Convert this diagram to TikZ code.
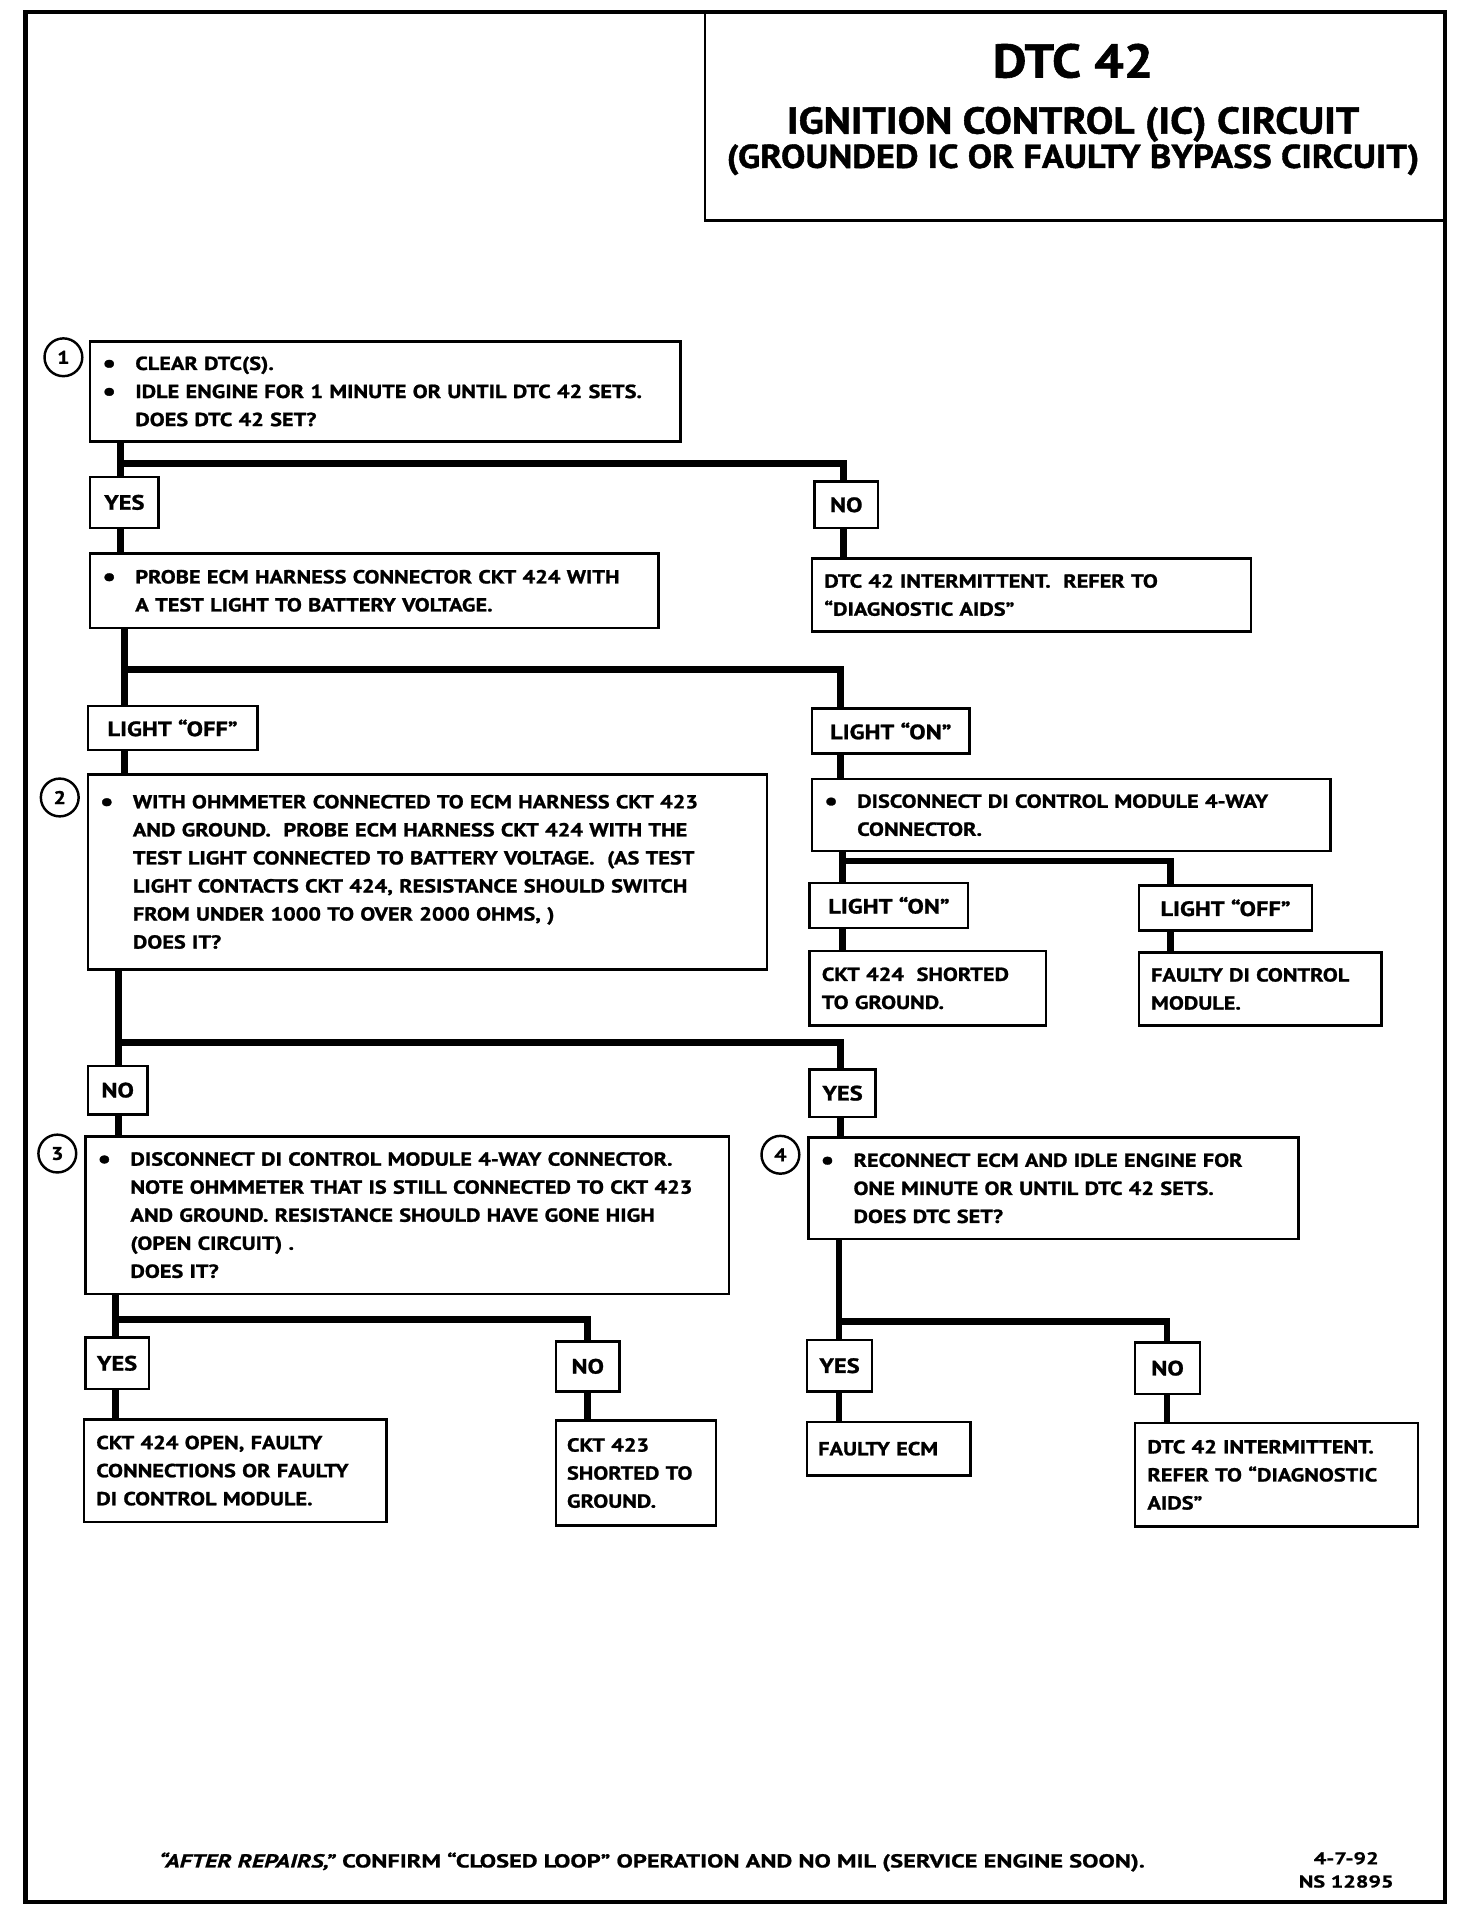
\documentclass[tikz,border=0pt]{standalone}
\usepackage{fontspec}
\setmainfont{PT Sans}
\newfontfamily\boxfont{PT Sans}[FakeStretch=1.18, BoldFeatures={FakeBold=1.2}]
\newfontfamily\headfont{PT Sans}[FakeStretch=1.1, BoldFeatures={FakeBold=1.2}]
\newfontfamily\footfont{PT Sans}[FakeStretch=1.3, BoldFeatures={FakeBold=1}, BoldItalicFeatures={FakeBold=1}]
\tikzset{
  stepbox/.style={draw, line width=2pt, anchor=north west, align=left,
    inner xsep=10pt, inner ysep=0pt, font=\boxfont\bfseries\fontsize{15.5}{23}\selectfont},
  tag/.style={draw, line width=2pt, anchor=north west, inner sep=0pt,
    font=\boxfont\bfseries\fontsize{17}{23}\selectfont},
  flow/.style={line width=5.5pt},
  num/.style={draw, circle, line width=2pt, minimum size=31pt, inner sep=0pt,
    font=\boxfont\bfseries\fontsize{15}{15}\selectfont}
}
\newcommand{\bul}{\makebox[27pt][l]{\raisebox{-1.5pt}{\fontsize{21}{21}\selectfont\textbullet}}}
\newcommand{\ind}{\hspace*{27pt}}
\begin{document}
\begin{tikzpicture}[x=1pt, y=-1pt]
\useasboundingbox (0,0) rectangle (1208,1568);
% frame and heading
\draw[line width=3.5pt] (21,10) rectangle (1185,1560);
\draw[line width=2pt] (578,10) rectangle (1185,181);
\node[font=\headfont\bfseries\fontsize{38.8}{40}\selectfont] (ttl) at (880,50) {DTC 42};
\node[font=\headfont\bfseries\fontsize{30.7}{30}\selectfont] (sub1) at (880,102) {IGNITION CONTROL (IC) CIRCUIT};
\node[font=\headfont\bfseries\fontsize{27.2}{27}\selectfont] (sub2) at (880,131) {(GROUNDED IC OR FAULTY BYPASS CIRCUIT)};

% step 1
\node[num] (c1) at (52,293) {1};
\node[stepbox, text width=464pt, minimum height=82pt] (b1) at (73,279)
  {\bul CLEAR DTC(S).\\ \bul IDLE ENGINE FOR 1 MINUTE OR UNTIL DTC 42 SETS.\\ \ind DOES DTC 42 SET?};
\node[tag, minimum width=56pt, minimum height=42pt] (y1) at (73,390) {YES};
\node[tag, minimum width=52pt, minimum height=38pt] (n1) at (667,394) {NO};
\node[stepbox, text width=446pt, minimum height=61pt] (pr) at (73,453)
  {\bul PROBE ECM HARNESS CONNECTOR CKT 424 WITH\\ \ind A TEST LIGHT TO BATTERY VOLTAGE.};
\node[stepbox, text width=340pt, minimum height=60pt] (ia) at (665,457)
  {DTC 42 INTERMITTENT.\ \ REFER TO\\ “DIAGNOSTIC AIDS”};
\coordinate (j1) at (99,380);
\coordinate (j1r) at (692,380);
\draw[flow] (b1.south -| j1) -- (y1.north -| j1);
\draw[flow] (j1) -- (j1r) -- (n1.north -| j1r);
\draw[flow] (y1.south -| j1) -- (pr.north -| j1);
\draw[flow] (n1.south -| j1r) -- (ia.north -| j1r);

% probe result
\node[tag, minimum width=139pt, minimum height=36pt] (loff) at (71,578) {LIGHT “OFF”};
\node[tag, minimum width=129pt, minimum height=37pt] (lon) at (665,580) {LIGHT “ON”};
\coordinate (j2) at (102,549);
\coordinate (j2r) at (689,549);
\draw[flow] (pr.south -| j2) -- (loff.north -| j2);
\draw[flow] (j2) -- (j2r) -- (lon.north -| j2r);

% step 2
\node[num] (c2) at (49,654) {2};
\node[stepbox, text width=537pt, minimum height=160pt] (b2) at (71,634)
  {\bul WITH OHMMETER CONNECTED TO ECM HARNESS CKT 423\\
   \ind AND GROUND.\ \ PROBE ECM HARNESS CKT 424 WITH THE\\
   \ind TEST LIGHT CONNECTED TO BATTERY VOLTAGE.\ \ (AS TEST\\
   \ind LIGHT CONTACTS CKT 424, RESISTANCE SHOULD SWITCH\\
   \ind FROM UNDER 1000 TO OVER 2000 OHMS, )\\
   \ind DOES IT?};
\draw[flow] (loff.south -| j2) -- (b2.north -| j2);

% light on side
\node[stepbox, text width=405pt, minimum height=59pt] (dc) at (665,638)
  {\bul DISCONNECT DI CONTROL MODULE 4-WAY\\ \ind CONNECTOR.};
\draw[flow] (lon.south -| j2r) -- (dc.north -| j2r);
\node[tag, minimum width=130pt, minimum height=37pt] (lon2) at (663,723) {LIGHT “ON”};
\node[tag, minimum width=142pt, minimum height=37pt] (loff2) at (933,725) {LIGHT “OFF”};
\node[stepbox, text width=174pt, minimum height=61pt] (sh) at (663,779)
  {CKT 424\ \ SHORTED\\ TO GROUND.};
\node[stepbox, text width=179pt, minimum height=60pt] (fm) at (933,780)
  {FAULTY DI CONTROL\\ MODULE.};
\coordinate (j6) at (691,706);
\coordinate (j6r) at (960,706);
\draw[flow] (dc.south -| j6) -- (lon2.north -| j6);
\draw[flow] (j6) -- (j6r) -- (loff2.north -| j6r);
\draw[flow] (lon2.south -| j6) -- (sh.north -| j6);
\draw[flow] (loff2.south -| j6r) -- (fm.north -| j6r);

% step 2 result
\node[tag, minimum width=49pt, minimum height=40pt] (n3) at (71,873) {NO};
\node[tag, minimum width=54pt, minimum height=39pt] (y3) at (663,876) {YES};
\coordinate (j3) at (97,855);
\coordinate (j3r) at (689,855);
\draw[flow] (b2.south -| j3) -- (n3.north -| j3);
\draw[flow] (j3) -- (j3r) -- (y3.north -| j3r);

% step 3
\node[num] (c3) at (47,946) {3};
\node[stepbox, text width=508pt, minimum height=129pt] (b3) at (69,931)
  {\bul DISCONNECT DI CONTROL MODULE 4-WAY CONNECTOR.\\
   \ind NOTE OHMMETER THAT IS STILL CONNECTED TO CKT 423\\
   \ind AND GROUND. RESISTANCE SHOULD HAVE GONE HIGH\\
   \ind (OPEN CIRCUIT) .\\
   \ind DOES IT?};
\draw[flow] (n3.south -| j3) -- (b3.north -| j3);

% step 4
\node[num] (c4) at (640,947) {4};
\node[stepbox, text width=382pt, minimum height=83pt] (b4) at (662,932)
  {\bul RECONNECT ECM AND IDLE ENGINE FOR\\
   \ind ONE MINUTE OR UNTIL DTC 42 SETS.\\
   \ind DOES DTC SET?};
\draw[flow] (y3.south -| j3r) -- (b4.north -| j3r);

% step 3 result
\node[tag, minimum width=52pt, minimum height=42pt] (y5) at (69,1096) {YES};
\node[tag, minimum width=52pt, minimum height=41pt] (n5) at (455,1099) {NO};
\node[stepbox, text width=228pt, minimum height=84pt] (op) at (68,1163)
  {CKT 424 OPEN, FAULTY\\ CONNECTIONS OR FAULTY\\ DI CONTROL MODULE.};
\node[stepbox, inner xsep=9pt, text width=113pt, minimum height=86pt] (s423) at (455,1164)
  {CKT 423\\ SHORTED TO\\ GROUND.};
\coordinate (j4) at (95,1082);
\coordinate (j4r) at (482,1082);
\draw[flow] (b3.south -| j4) -- (y5.north -| j4);
\draw[flow] (j4) -- (j4r) -- (n5.north -| j4r);
\draw[flow] (y5.south -| j4) -- (op.north -| j4);
\draw[flow] (n5.south -| j4r) -- (s423.north -| j4r);

% step 4 result
\node[tag, minimum width=53pt, minimum height=42pt] (y6) at (661,1098) {YES};
\node[tag, minimum width=53pt, minimum height=42pt] (n6) at (930,1100) {NO};
\node[stepbox, inner xsep=9pt, text width=116pt, minimum height=44pt] (fe) at (661,1165)
  {FAULTY ECM};
\node[stepbox, text width=212pt, minimum height=85pt] (ia2) at (930,1166)
  {DTC 42 INTERMITTENT.\\ REFER TO “DIAGNOSTIC\\ AIDS”};
\coordinate (j5) at (688,1084);
\coordinate (j5r) at (957,1084);
\draw[flow] (b4.south -| j5) -- (y6.north -| j5);
\draw[flow] (j5) -- (j5r) -- (n6.north -| j5r);
\draw[flow] (y6.south -| j5) -- (fe.north -| j5);
\draw[flow] (n6.south -| j5r) -- (ia2.north -| j5r);

% footer
\node[anchor=west, font=\footfont\bfseries\fontsize{15.4}{15}\selectfont] (ftr) at (127,1527)
  {\textit{“AFTER REPAIRS,”} CONFIRM “CLOSED LOOP” OPERATION AND NO MIL (SERVICE ENGINE SOON).};
\node[font=\footfont\bfseries\fontsize{14}{14}\selectfont] (dt) at (1104,1524) {4-7-92};
\node[font=\footfont\bfseries\fontsize{14}{14}\selectfont] (ns) at (1104,1543) {NS 12895};
\end{tikzpicture}
\end{document}
